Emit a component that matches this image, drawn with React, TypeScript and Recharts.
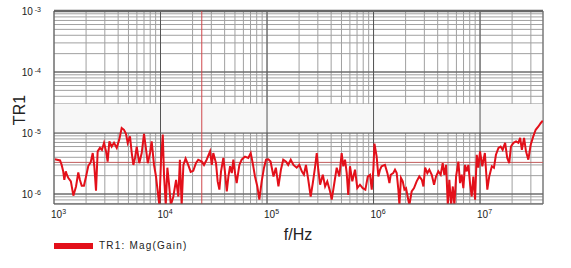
import {
  LineChart,
  Line,
  XAxis,
  YAxis,
  CartesianGrid,
  ReferenceLine,
  ReferenceArea,
} from 'recharts';

// sweep frequencies (Hz)
const freqs = [
  1.02e3, 1.14e3, 1.18e3, 1.22e3, 1.25e3, 1.29e3, 1.32e3, 1.36e3, 1.44e3, 1.52e3,
  1.61e3, 1.69e3, 1.75e3, 1.82e3, 1.91e3, 2.0e3, 2.1e3, 2.21e3, 2.31e3, 2.39e3,
  2.48e3, 2.57e3, 2.7e3, 2.82e3, 2.95e3, 3.08e3, 3.19e3, 3.31e3, 3.48e3, 3.66e3,
  3.88e3, 4.1e3, 4.32e3, 4.54e3, 4.74e3, 4.92e3, 5.17e3, 5.37e3, 5.56e3, 5.76e3,
  5.98e3, 6.32e3, 6.66e3, 7.0e3, 7.26e3, 7.59e3, 7.97e3, 8.26e3, 8.69e3, 9.07e3,
  9.41e3, 9.75e3, 1.01e4, 1.05e4, 1.08e4, 1.12e4, 1.16e4, 1.2e4, 1.25e4, 1.32e4,
  1.4e4, 1.47e4, 1.52e4, 1.58e4, 1.64e4, 1.72e4, 1.82e4, 1.92e4, 2.03e4, 2.15e4,
  2.26e4, 2.44e4, 2.56e4, 2.71e4, 2.92e4, 3.03e4, 3.13e4, 3.32e4, 3.44e4, 3.57e4,
  3.7e4, 3.89e4, 4.04e4, 4.19e4, 4.34e4, 4.5e4, 4.67e4, 4.83e4, 5.01e4, 5.19e4,
  5.5e4, 5.78e4, 6.21e4, 6.67e4, 7.03e4, 7.34e4, 7.71e4, 8.11e4, 8.47e4, 8.91e4,
  9.37e4, 9.79e4, 1.03e5, 1.08e5, 1.15e5, 1.21e5, 1.28e5, 1.35e5, 1.42e5, 1.51e5,
  1.58e5, 1.67e5, 1.77e5, 1.9e5, 2.01e5, 2.12e5, 2.22e5, 2.32e5, 2.44e5, 2.57e5,
  2.69e5, 2.82e5, 2.93e5, 3.03e5, 3.15e5, 3.34e5, 3.51e5, 3.68e5, 3.91e5, 4.05e5,
  4.26e5, 4.51e5, 4.78e5, 5.02e5, 5.2e5, 5.4e5, 5.6e5, 5.79e5, 6.01e5, 6.32e5,
  6.7e5, 7.04e5, 7.46e5, 7.92e5, 8.38e5, 8.83e5, 9.27e5, 9.62e5, 9.96e5, 1.02e6,
  1.07e6, 1.11e6, 1.15e6, 1.19e6, 1.28e6, 1.35e6, 1.41e6, 1.45e6, 1.53e6, 1.59e6,
  1.65e6, 1.71e6, 1.75e6, 1.81e6, 1.88e6, 1.95e6, 2.02e6, 2.09e6, 2.17e6, 2.28e6,
  2.4e6, 2.54e6, 2.69e6, 2.84e6, 2.94e6, 3.05e6, 3.2e6, 3.34e6, 3.52e6, 3.7e6,
  3.86e6, 4.06e6, 4.27e6, 4.46e6, 4.62e6, 4.8e6, 4.98e6, 5.15e6, 5.35e6, 5.55e6,
  5.74e6, 5.96e6, 6.26e6, 6.49e6, 6.73e6, 6.97e6, 7.23e6, 7.5e6, 7.77e6, 8.05e6,
  8.35e6, 8.65e6, 8.98e6, 9.31e6, 9.64e6, 1.0e7, 1.05e7, 1.11e7, 1.17e7, 1.22e7,
  1.29e7, 1.35e7, 1.41e7, 1.49e7, 1.56e7, 1.63e7, 1.72e7, 1.8e7, 1.88e7, 1.95e7,
  2.06e7, 2.18e7, 2.29e7, 2.38e7, 2.47e7, 2.59e7, 2.7e7, 2.84e7, 2.99e7, 3.16e7,
  3.33e7, 3.53e7, 3.72e7, 3.88e7,
];

// TR1 magnitude (gain) at each frequency
const mags = [
  3.7e-6, 3.55e-6, 3.0e-6, 2.35e-6, 1.71e-6, 2.35e-6, 2.07e-6, 1.85e-6, 1.61e-6, 9.4e-7,
  1.33e-6, 2.25e-6, 1.71e-6, 1.37e-6, 1.37e-6, 1.94e-6, 2.9e-6, 3.3e-6, 4.7e-6, 2.85e-6,
  1.13e-6, 5.0e-6, 5.7e-6, 5.3e-6, 6.9e-6, 5.0e-6, 3.4e-6, 7.3e-6, 6.0e-6, 6.9e-6,
  5.7e-6, 7.8e-6, 1.21e-5, 1.13e-5, 9.7e-6, 6.9e-6, 8.8e-6, 4.7e-6, 3.0e-6, 3.9e-6,
  6.0e-6, 3.2e-6, 4.7e-6, 9.7e-6, 6.0e-6, 3.2e-6, 4.7e-6, 7.3e-6, 3.0e-6, 1.94e-6,
  1.1e-6, 6.6e-7, 3.4e-6, 9.4e-6, 1.94e-6, 6.6e-7, 2.7e-6, 1.51e-6, 6.6e-7, 9.1e-7,
  1.71e-6, 9.1e-7, 3.65e-6, 6.6e-7, 3.0e-6, 3.8e-6, 3.0e-6, 2.3e-6, 2.4e-6, 3.2e-6,
  3.65e-6, 3.4e-6, 3.0e-6, 3.65e-6, 5.0e-6, 3.0e-6, 4.7e-6, 3.2e-6, 1.61e-6, 1.18e-6,
  2.35e-6, 3.9e-6, 2.2e-6, 1.1e-6, 1.94e-6, 2.85e-6, 2.2e-6, 3.65e-6, 2.2e-6, 1.51e-6,
  3.0e-6, 3.65e-6, 4.1e-6, 3.9e-6, 4.7e-6, 3.2e-6, 1.94e-6, 1.33e-6, 8.1e-7, 1.61e-6,
  2.7e-6, 3.65e-6, 3.7e-6, 3.4e-6, 1.94e-6, 2.7e-6, 1.33e-6, 2.5e-6, 3.65e-6, 3.4e-6,
  3.0e-6, 3.65e-6, 3.0e-6, 2.7e-6, 3.0e-6, 2.35e-6, 2.07e-6, 3.0e-6, 1.71e-6, 9.1e-7,
  1.51e-6, 2.7e-6, 4.7e-6, 2.5e-6, 1.42e-6, 2.07e-6, 1.33e-6, 1.61e-6, 1.1e-6, 8.1e-7,
  1.42e-6, 2.7e-6, 1.94e-6, 4.7e-6, 2.85e-6, 3.65e-6, 2.2e-6, 9.7e-7, 2.85e-6, 1.61e-6,
  2.5e-6, 1.25e-6, 1.42e-6, 1.25e-6, 1.18e-6, 1.94e-6, 2.07e-6, 1.18e-6, 2.5e-6, 6.7e-6,
  4.1e-6, 1.94e-6, 2.5e-6, 2.85e-6, 3.0e-6, 2.2e-6, 1.51e-6, 2.07e-6, 2.2e-6, 2.5e-6,
  2.2e-6, 1.18e-6, 6.6e-7, 1.83e-6, 1.61e-6, 1.18e-6, 1.25e-6, 9.1e-7, 6.6e-7, 1.1e-6,
  1.25e-6, 1.61e-6, 1.94e-6, 1.71e-6, 1.33e-6, 2.7e-6, 2.2e-6, 2.5e-6, 2.07e-6, 1.42e-6,
  1.94e-6, 2.35e-6, 2.07e-6, 3.2e-6, 2.07e-6, 3.0e-6, 6.6e-7, 1.71e-6, 6.6e-7, 1.33e-6,
  6.6e-7, 1.94e-6, 3.4e-6, 1.51e-6, 2.07e-6, 1.25e-6, 3.0e-6, 2.35e-6, 3.0e-6, 1.51e-6,
  9.1e-7, 1.94e-6, 8.1e-7, 4.4e-6, 2.7e-6, 5.0e-6, 2.85e-6, 4.7e-6, 1.18e-6, 1.94e-6,
  2.85e-6, 2.7e-6, 4.4e-6, 5.7e-6, 6.0e-6, 5.3e-6, 6.9e-6, 3.9e-6, 3.2e-6, 6.0e-6,
  6.9e-6, 7.3e-6, 6.9e-6, 8.3e-6, 5.3e-6, 8.3e-6, 5.0e-6, 3.65e-6, 6.4e-6, 8.8e-6,
  1.13e-5, 1.28e-5, 1.46e-5, 1.59e-5,
];

const xDecades = [1e3, 1e4, 1e5, 1e6, 1e7];
const yDecades = [1e-6, 1e-5, 1e-4, 1e-3];
const mantissas = [1, 2, 3, 4, 5, 6, 7, 8, 9];
const xDomain = [1e3, 3.9e7];
const yDomain = [6.86e-7, 1e-3];
const markerFreq = 2.44e4;
const markerLevel = 3.3e-6;

const data = freqs.map((f, i) => ({ f, mag: mags[i] }));

const xTicks = [...xDecades, 1e8]
  .flatMap((d) => mantissas.map((m) => m * d))
  .filter((v) => v >= xDomain[0] && v <= xDomain[1]);
const yTicks = [1e-7, ...yDecades]
  .flatMap((d) => mantissas.map((m) => m * d))
  .filter((v) => v >= yDomain[0] * 0.999 && v <= yDomain[1] * 1.001);

const FONT = '"Liberation Sans", Arial, sans-serif';
const RED = '#e3101a';

const isDecade = (v: number) => Math.abs(Math.log10(v) - Math.round(Math.log10(v))) < 1e-6;

function XTick({ x, payload }: any) {
  const v = payload.value;
  if (!isDecade(v)) return <g />;
  return (
    <text x={x - 3} y={218} fontFamily={FONT} fill="#222" textAnchor="start">
      <tspan fontSize={10}>10</tspan>
      <tspan fontSize={7} dy={-4}>{Math.round(Math.log10(v))}</tspan>
    </text>
  );
}

function YTick({ y, payload }: any) {
  const v = payload.value;
  if (!isDecade(v)) return <g />;
  return (
    <text x={41} y={y + 3.5} fontFamily={FONT} fill="#222" textAnchor="end">
      <tspan fontSize={10}>10</tspan>
      <tspan fontSize={7} dx={2} dy={-3}>{Math.round(Math.log10(v))}</tspan>
    </text>
  );
}

export default function App() {
  return (
    <div style={{ position: 'absolute', left: 0, top: 0, width: 571, height: 268, background: '#fff' }}>
      <LineChart
        width={571}
        height={268}
        data={data}
        margin={{ top: 11, right: 28, bottom: 44, left: 0 }}
      >
        <ReferenceArea y1={1e-5} y2={3e-5} fill="#f7f7f7" fillOpacity={1} stroke="none" />
        <CartesianGrid stroke="#a0a0a0" strokeWidth={1} />
        <XAxis
          type="number"
          dataKey="f"
          scale="log"
          domain={xDomain}
          ticks={xTicks}
          interval={0}
          allowDataOverflow
          height={20}
          tickLine={false}
          axisLine={{ stroke: '#666' }}
          tick={<XTick />}
          label={{
            content: () => (
              <text x={298} y={240} textAnchor="middle" fontFamily={FONT} fontSize={16} fill="#222">
                f/Hz
              </text>
            ),
          }}
        />
        <YAxis
          type="number"
          dataKey="mag"
          scale="log"
          domain={yDomain}
          ticks={yTicks}
          interval={0}
          allowDataOverflow
          width={54}
          tickLine={false}
          axisLine={{ stroke: '#555' }}
          tick={<YTick />}
          label={{
            content: () => (
              <text
                x={25}
                y={110}
                transform="rotate(-90 25 110)"
                textAnchor="middle"
                fontFamily={FONT}
                fontSize={16}
                fill="#222"
              >
                TR1
              </text>
            ),
          }}
        />
        {xDecades.slice(1).map((d) => (
          <ReferenceLine key={'x' + d} x={d} stroke="#555" strokeWidth={1} />
        ))}
        {yDecades.slice(0, -1).map((d) => (
          <ReferenceLine key={'y' + d} y={d} stroke="#555" strokeWidth={1} />
        ))}
        <ReferenceLine y={yDomain[1]} stroke="#666" strokeWidth={2.5} />
        <ReferenceLine x={xDomain[1]} stroke="#666" strokeWidth={1} />
        <ReferenceLine x={markerFreq} stroke="#d0484c" strokeWidth={1} />
        <ReferenceLine y={markerLevel} stroke="#c05a5a" strokeWidth={1} />
        <Line
          type="linear"
          dataKey="mag"
          stroke={RED}
          strokeWidth={2}
          dot={false}
          isAnimationActive={false}
        />
      </LineChart>
      <div
        style={{
          position: 'absolute',
          left: 54,
          top: 240,
          display: 'flex',
          alignItems: 'center',
          fontFamily: FONT,
          fontSize: 10,
          letterSpacing: 1.2,
          color: '#222',
        }}
      >
        <div style={{ width: 39, height: 6, background: RED, marginRight: 6 }} />
        <span>TR1: Mag(Gain)</span>
      </div>
    </div>
  );
}
